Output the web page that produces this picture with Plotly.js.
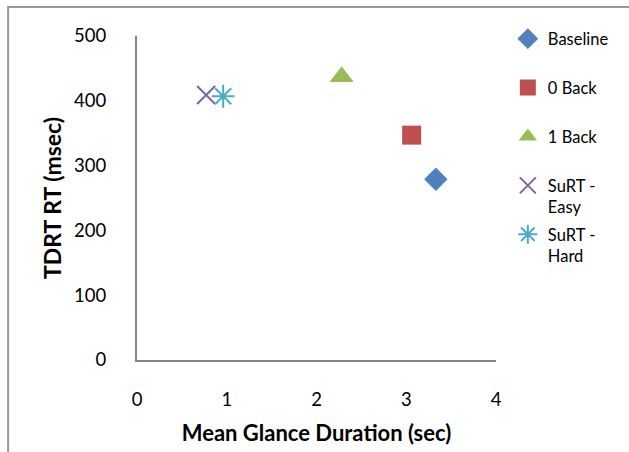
<!DOCTYPE html>
<html>
<head>
<meta charset="utf-8">
<script src="https://cdn.plot.ly/plotly-3.0.1.min.js"></script>
<style>html,body{margin:0;padding:0;background:#fff;}#chart{width:629px;height:452px;}</style>
</head>
<body>
<div id="chart"></div>
<script>
const seriesNames = ["Baseline<br>&nbsp;", "0 Back<br>&nbsp;", "1 Back<br>&nbsp;", "SuRT -<br>Easy", "SuRT -<br>Hard"];
const glanceDuration = [3.33, 3.06, 2.28, 0.77, 0.96];
const tdrtRT = [279, 347, 437, 409, 407];
const xTicks = [0, 1, 2, 3, 4];
const yTicks = [0, 100, 200, 300, 400, 500];

const colors = ["#4F81BD", "#C0504D", "#9BBB59", "#8064A2", "#4BACC6"];
const symbols = ["diamond", "square", "triangle-up", "x-thin-open", "asterisk-open"];
const sizes = [18, 19, 21, 18, 19];

const traces = seriesNames.map((n, i) => ({
  type: "scatter", mode: "markers", name: n,
  x: [glanceDuration[i]], y: [tdrtRT[i]],
  legendgroup: "g" + i,
  marker: {symbol: symbols[i], color: colors[i], size: sizes[i],
           line: {color: colors[i], width: (i >= 3 ? 2 : 0)}}
}));

const FONT = "Lato, 'Noto Sans', sans-serif";
const layout = {
  width: 629, height: 452,
  margin: {l: 137, r: 133, t: 36, b: 92, autoexpand: false},
  paper_bgcolor: "#fff", plot_bgcolor: "#fff",
  font: {family: FONT, color: "#000"},
  showlegend: true,
  legend: {x: 1.033, y: 1.045, xanchor: "left", yanchor: "top",
           font: {size: 16.5, family: FONT}, tracegroupgap: 3, valign: "top",
           itemwidth: 30, maxheight: 440, bgcolor: "rgba(0,0,0,0)"},
  xaxis: {range: [0, 4], tickvals: xTicks, showgrid: false, zeroline: false,
          showline: true, linecolor: "#868686", linewidth: 2, ticks: "",
          tickfont: {size: 18.5}, ticklabelstandoff: 22,
          title: {text: "<b>Mean Glance Duration (sec)</b>", font: {size: 22}, standoff: 16}},
  yaxis: {range: [0, 500], tickvals: yTicks, showgrid: false, zeroline: false,
          showline: true, linecolor: "#868686", linewidth: 2, ticks: "",
          tickfont: {size: 18.5}, ticklabelstandoff: 25,
          title: {text: "<b>TDRT RT (msec)</b>", font: {size: 23}, standoff: 6}},
  shapes: [{type: "rect", xref: "paper", yref: "paper",
            x0: -0.359, x1: 1.5, y0: -0.4, y1: 1.0895,
            line: {color: "#9a9a9a", width: 2}, layer: "below"}]
};

Plotly.newPlot("chart", traces, layout, {displayModeBar: false, staticPlot: true});
</script>
</body>
</html>
